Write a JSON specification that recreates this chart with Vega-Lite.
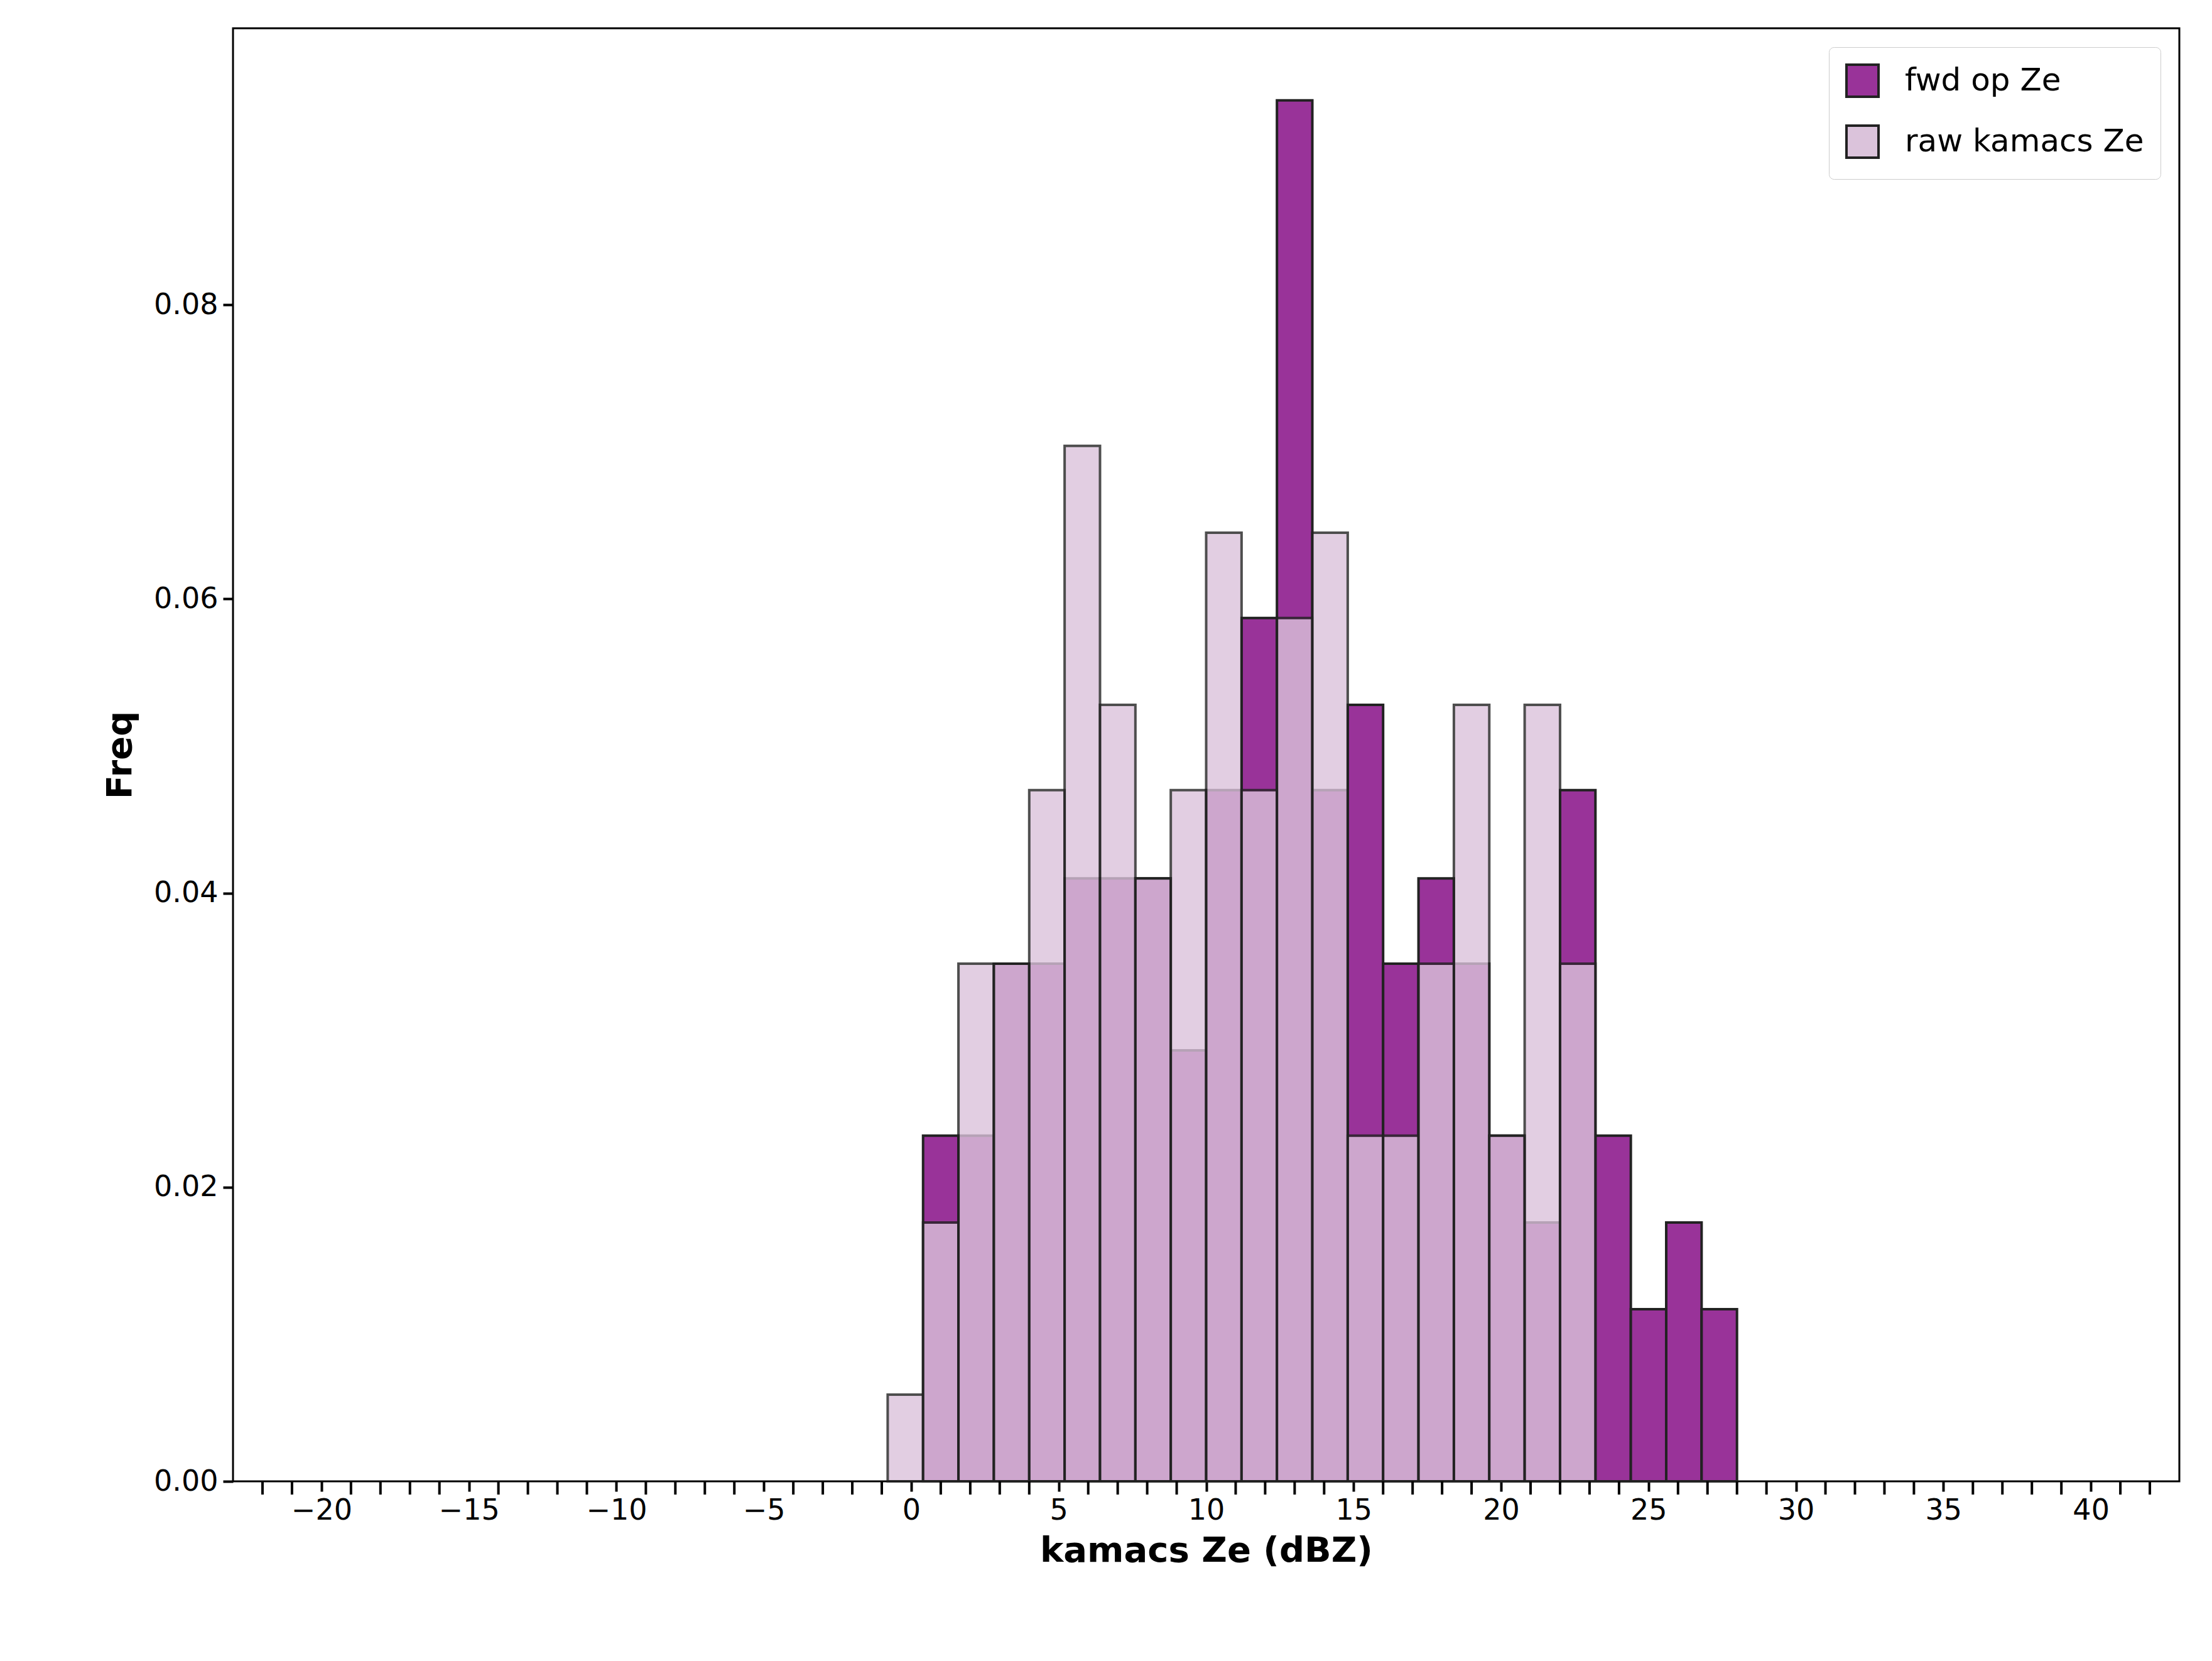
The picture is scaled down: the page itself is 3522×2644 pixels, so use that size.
{
  "$schema": "https://vega.github.io/schema/vega-lite/v6.json",
  "width": 3099,
  "height": 2313,
  "autosize": "none",
  "padding": {"left": 371, "top": 45, "right": 52, "bottom": 286},
  "background": "white",
  "config": {
    "font": "DejaVu Sans",
    "view": {"stroke": "black", "strokeWidth": 3},
    "axis": {"labelFont": "DejaVu Sans", "labelFontSize": 46, "labelColor": "black", "tickColor": "black", "tickWidth": 4, "domain": false, "grid": false, "titleFont": "DejaVu Sans", "titleFontSize": 56, "titleFontWeight": "bold", "titleColor": "black"}
  },
  "data": {"values": [
    {"s": "fwd op Ze", "b0": 0.4, "b1": 1.6, "f": 0.0235},
    {"s": "fwd op Ze", "b0": 1.6, "b1": 2.8, "f": 0.0235},
    {"s": "fwd op Ze", "b0": 2.8, "b1": 4.0, "f": 0.0352},
    {"s": "fwd op Ze", "b0": 4.0, "b1": 5.2, "f": 0.0352},
    {"s": "fwd op Ze", "b0": 5.2, "b1": 6.4, "f": 0.041},
    {"s": "fwd op Ze", "b0": 6.4, "b1": 7.6, "f": 0.041},
    {"s": "fwd op Ze", "b0": 7.6, "b1": 8.8, "f": 0.041},
    {"s": "fwd op Ze", "b0": 8.8, "b1": 10.0, "f": 0.0293},
    {"s": "fwd op Ze", "b0": 10.0, "b1": 11.2, "f": 0.047},
    {"s": "fwd op Ze", "b0": 11.2, "b1": 12.4, "f": 0.0587},
    {"s": "fwd op Ze", "b0": 12.4, "b1": 13.6, "f": 0.0939},
    {"s": "fwd op Ze", "b0": 13.6, "b1": 14.8, "f": 0.047},
    {"s": "fwd op Ze", "b0": 14.8, "b1": 16.0, "f": 0.0528},
    {"s": "fwd op Ze", "b0": 16.0, "b1": 17.2, "f": 0.0352},
    {"s": "fwd op Ze", "b0": 17.2, "b1": 18.4, "f": 0.041},
    {"s": "fwd op Ze", "b0": 18.4, "b1": 19.6, "f": 0.0352},
    {"s": "fwd op Ze", "b0": 19.6, "b1": 20.8, "f": 0.0235},
    {"s": "fwd op Ze", "b0": 20.8, "b1": 22.0, "f": 0.0176},
    {"s": "fwd op Ze", "b0": 22.0, "b1": 23.2, "f": 0.047},
    {"s": "fwd op Ze", "b0": 23.2, "b1": 24.4, "f": 0.0235},
    {"s": "fwd op Ze", "b0": 24.4, "b1": 25.6, "f": 0.0117},
    {"s": "fwd op Ze", "b0": 25.6, "b1": 26.8, "f": 0.0176},
    {"s": "fwd op Ze", "b0": 26.8, "b1": 28.0, "f": 0.0117},
    {"s": "raw kamacs Ze", "b0": -0.8, "b1": 0.4, "f": 0.0059},
    {"s": "raw kamacs Ze", "b0": 0.4, "b1": 1.6, "f": 0.0176},
    {"s": "raw kamacs Ze", "b0": 1.6, "b1": 2.8, "f": 0.0352},
    {"s": "raw kamacs Ze", "b0": 2.8, "b1": 4.0, "f": 0.0352},
    {"s": "raw kamacs Ze", "b0": 4.0, "b1": 5.2, "f": 0.047},
    {"s": "raw kamacs Ze", "b0": 5.2, "b1": 6.4, "f": 0.0704},
    {"s": "raw kamacs Ze", "b0": 6.4, "b1": 7.6, "f": 0.0528},
    {"s": "raw kamacs Ze", "b0": 7.6, "b1": 8.8, "f": 0.041},
    {"s": "raw kamacs Ze", "b0": 8.8, "b1": 10.0, "f": 0.047},
    {"s": "raw kamacs Ze", "b0": 10.0, "b1": 11.2, "f": 0.0645},
    {"s": "raw kamacs Ze", "b0": 11.2, "b1": 12.4, "f": 0.047},
    {"s": "raw kamacs Ze", "b0": 12.4, "b1": 13.6, "f": 0.0587},
    {"s": "raw kamacs Ze", "b0": 13.6, "b1": 14.8, "f": 0.0645},
    {"s": "raw kamacs Ze", "b0": 14.8, "b1": 16.0, "f": 0.0235},
    {"s": "raw kamacs Ze", "b0": 16.0, "b1": 17.2, "f": 0.0235},
    {"s": "raw kamacs Ze", "b0": 17.2, "b1": 18.4, "f": 0.0352},
    {"s": "raw kamacs Ze", "b0": 18.4, "b1": 19.6, "f": 0.0528},
    {"s": "raw kamacs Ze", "b0": 19.6, "b1": 20.8, "f": 0.0235},
    {"s": "raw kamacs Ze", "b0": 20.8, "b1": 22.0, "f": 0.0528},
    {"s": "raw kamacs Ze", "b0": 22.0, "b1": 23.2, "f": 0.0352}
  ]},
  "layer": [
    {
      "transform": [{"filter": "datum.s === 'fwd op Ze'"}],
      "mark": {"type": "bar", "stroke": "#222222", "strokeWidth": 4, "opacity": 1},
      "encoding": {
        "x": {"field": "b0", "type": "quantitative", "scale": {"domain": [-23, 43], "nice": false, "zero": false},
              "axis": {"values": [-20, -15, -10, -5, 0, 5, 10, 15, 20, 25, 30, 35, 40], "tickSize": 16, "labelPadding": 8, "title": "kamacs Ze (dBZ)", "titlePadding": 14}},
        "x2": {"field": "b1"},
        "y": {"field": "f", "type": "quantitative", "scale": {"domain": [0, 0.0988], "nice": false},
              "axis": {"values": [0, 0.02, 0.04, 0.06, 0.08], "format": ".2f", "tickSize": 16, "labelPadding": 8, "title": "Freq", "titlePadding": 24}},
        "y2": {"datum": 0},
        "fill": {"field": "s", "type": "nominal",
                 "scale": {"domain": ["fwd op Ze", "raw kamacs Ze"], "range": ["#993399", "#dbc3db"]},
                 "legend": {"orient": "top-right", "title": null, "symbolType": "square", "symbolSize": 2600, "symbolStrokeColor": "#222222", "symbolStrokeWidth": 4, "labelFontSize": 50, "labelFont": "DejaVu Sans", "labelColor": "black", "labelLimit": 0, "labelOffset": 40, "rowPadding": 30, "padding": 26, "offset": 30, "strokeColor": "#cccccc", "fillColor": "white", "cornerRadius": 8}}
      }
    },
    {
      "transform": [{"filter": "datum.s === 'raw kamacs Ze'"}],
      "mark": {"type": "bar", "stroke": "#222222", "strokeWidth": 4, "opacity": 0.8},
      "encoding": {
        "x": {"field": "b0", "type": "quantitative"},
        "x2": {"field": "b1"},
        "y": {"field": "f", "type": "quantitative"},
        "y2": {"datum": 0},
        "fill": {"field": "s", "type": "nominal"}
      }
    },
    {
      "data": {"values": [{"v":-22},{"v":-21},{"v":-19},{"v":-18},{"v":-17},{"v":-16},{"v":-14},{"v":-13},{"v":-12},{"v":-11},{"v":-9},{"v":-8},{"v":-7},{"v":-6},{"v":-4},{"v":-3},{"v":-2},{"v":-1},{"v":1},{"v":2},{"v":3},{"v":4},{"v":6},{"v":7},{"v":8},{"v":9},{"v":11},{"v":12},{"v":13},{"v":14},{"v":16},{"v":17},{"v":18},{"v":19},{"v":21},{"v":22},{"v":23},{"v":24},{"v":26},{"v":27},{"v":28},{"v":29},{"v":31},{"v":32},{"v":33},{"v":34},{"v":36},{"v":37},{"v":38},{"v":39},{"v":41},{"v":42}]},
      "mark": {"type": "rule", "color": "black", "strokeWidth": 4, "clip": false},
      "encoding": {
        "x": {"field": "v", "type": "quantitative"},
        "y": {"datum": 0},
        "y2": {"datum": -0.0009}
      }
    }
  ]
}
